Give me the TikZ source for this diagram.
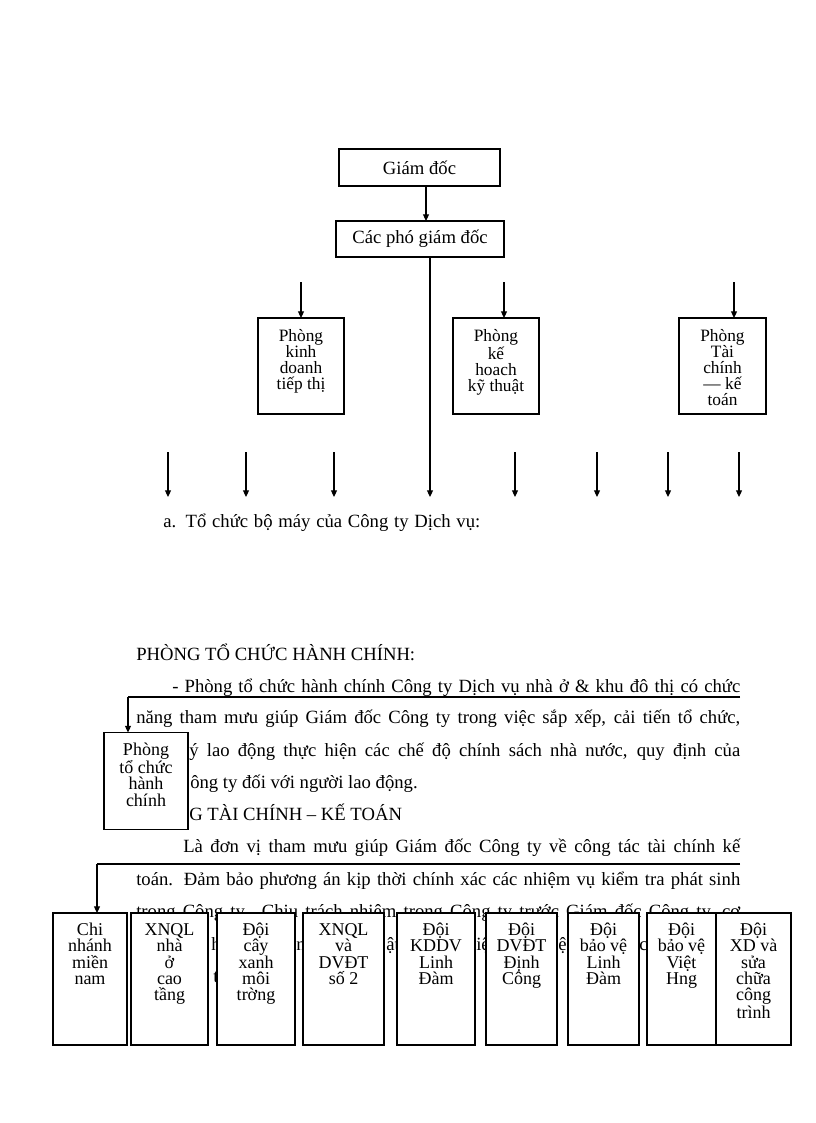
\documentclass[tikz,border=0pt]{standalone}
\usepackage{fontspec}
\setmainfont{Liberation Serif}
\usetikzlibrary{arrows.meta}
\newcommand\firststrut{\rule{0pt}{11pt}}
\begin{document}
\begin{tikzpicture}[x=0.75pt,y=-0.75pt,
  frame/.style={draw, line width=0.8pt, fill=white, inner sep=0pt, outer sep=0pt},
  headtxt/.style={font=\fontsize{14}{16}\selectfont},
  bigtxt/.style={font=\fontsize{13}{12}\selectfont, align=center, inner sep=0pt, anchor=north},
  midtxt/.style={font=\fontsize{13.5}{12.3}\selectfont, align=center, inner sep=0pt, anchor=north},
  smalltxt/.style={font=\fontsize{13.5}{12.3}\selectfont, align=center, inner sep=0pt, anchor=north},
  body/.style={font=\fontsize{14}{16}\selectfont, inner sep=0pt, anchor=base west},
  conn/.style={line width=0.8pt},
  arr/.style={conn, -{Triangle[length=5pt,width=4.5pt]}}
]
\useasboundingbox (0,0) rectangle (816,1123);

% ---------- top chart ----------
\node[frame, headtxt, minimum width=120.75pt, minimum height=27.75pt] (gd) at (419.5,167.5) {Giám đốc};
\node[frame, headtxt, minimum width=126pt, minimum height=27pt] (pgd) at (420,239) {Các phó giám đốc};

\node[frame, minimum width=64.5pt, minimum height=72pt] (kd) at (301,366) {};
\node[bigtxt] (kdt) at (301,326.5) {\firststrut Phòng\\kinh\\doanh\\tiếp thị};
\node[frame, minimum width=64.5pt, minimum height=72pt] (kh) at (496,366) {};
\node[bigtxt] (kht) at (496,326.5) {\firststrut Phòng\\kế\\hoach\\kỹ thuật};
\node[frame, minimum width=65.25pt, minimum height=72pt] (tc) at (722.5,366) {};
\node[bigtxt] (tct) at (722.5,326.5) {\firststrut Phòng\\Tài\\chính\\— kế\\toán};

\coordinate (a1) at (426,0);
\draw[arr] (gd.south -| a1) -- (pgd.north -| a1);
\coordinate (vEnd) at (430,497);
\draw[arr] (pgd.south -| vEnd) -- (vEnd);
\coordinate (s1) at (301,282);
\draw[arr] (s1) -- (kd.north);
\coordinate (s2) at (504,282);
\draw[arr] (s2) -- (s2 |- kh.north);
\coordinate (s3) at (734,282);
\draw[arr] (s3) -- (s3 |- tc.north);

\foreach \xx [count=\i] in {168,246,334,515,597,668,739}{
  \coordinate (r\i a) at (\xx,452);
  \coordinate (r\i b) at (\xx,497);
  \draw[arr] (r\i a) -- (r\i b);
}

\node[body] (cap) at (163,527) {\makebox[237.75pt][s]{a. Tổ chức bộ máy của Công ty Dịch vụ:}};

% ---------- body text ----------
\node[body] (l0) at (136,660) {PHÒNG TỔ CHỨC HÀNH  CHÍNH:};
\node[body] (l1) at (172,692) {\makebox[426pt][s]{- Phòng tổ chức hành chính Công ty Dịch vụ nhà ở \& khu đô thị có chức}};
\node[body] (l2) at (136,723) {\makebox[453pt][s]{năng tham mưu giúp Giám đốc Công ty trong việc sắp xếp, cải tiến tổ chức,}};
\node[body] (l3) at (189,756) {\makebox[413.25pt][s]{ý lao động thực hiện các chế độ chính sách nhà nước, quy định của}};
\node[body] (l4) at (190,788) {ông ty đối với người lao động.};
\node[body] (l5) at (189,820) {G TÀI CHÍNH – KẾ TOÁN};
\node[body] (l6) at (183,852) {\makebox[417.75pt][s]{Là đơn vị tham mưu giúp Giám đốc Công ty về công tác tài chính kế}};
\node[body] (l7) at (136,885) {\makebox[453pt][s]{toán. Đảm bảo phương án kịp thời chính xác các nhiệm vụ kiểm tra phát sinh}};
\node[body] (l8) at (136,917) {\makebox[453pt][s]{trong Công ty. Chịu trách nhiệm trong Công ty trước Giám đốc Công ty, cơ}};
\node[body] (f1) at (211,950) {h};
\node[body] (f2) at (296,950) {n};
\node[body] (f3) at (386,950) {ật};
\node[body] (f4) at (476,950) {iệ};
\node[body] (f5) at (558,950) {ệ};
\node[body] (f6) at (639,950) {cl};
\node[body] (f7) at (213,982) {t};

% ---------- Phòng tổ chức hành chính ----------
\node[frame, minimum width=63pt, minimum height=72.75pt] (tchc) at (146,781) {};
\node[midtxt] (tchct) at (146,740.3) {\firststrut Phòng\\tổ chức\\hành\\chính};
\coordinate (h1a) at (740,697);
\coordinate (h1b) at (128,697);
\draw[conn] (h1a) -- (h1b);
\draw[arr] (h1b) -- (h1b |- tchc.north);

% ---------- bottom row ----------
\node[frame, minimum width=55.5pt, minimum height=99pt] (cn) at (90,979) {};
\node[frame, minimum width=57.75pt, minimum height=99pt] (xa) at (169.5,979) {};
\node[frame, minimum width=58.5pt, minimum height=99pt] (dc) at (256,979) {};
\node[frame, minimum width=60.75pt, minimum height=99pt] (xb) at (343.5,979) {};
\node[frame, minimum width=58.5pt, minimum height=99pt] (kdd) at (436,979) {};
\node[frame, minimum width=53.25pt, minimum height=99pt] (dv) at (521.5,979) {};
\node[frame, minimum width=53.25pt, minimum height=99pt] (bva) at (603.5,979) {};
\node[frame, minimum width=51.75pt, minimum height=99pt] (bvb) at (681.5,979) {};
\node[frame, minimum width=56.25pt, minimum height=99pt] (xd) at (753.5,979) {};

\node[smalltxt] (cnt) at (90,920.3) {\firststrut Chi\\nhánh\\miền\\nam};
\node[smalltxt] (xat) at (169.5,920.3) {\firststrut XNQL\\nhà\\ở\\cao\\tầng};
\node[smalltxt] (dct) at (256,920.3) {\firststrut Đội\\cây\\xanh\\môi\\trờng};
\node[smalltxt] (xbt) at (343.5,920.3) {\firststrut XNQL\\và\\DVĐT\\số 2};
\node[smalltxt] (kddt) at (436,920.3) {\firststrut Đội\\KDDV\\Linh\\Đàm};
\node[smalltxt] (dvt) at (521.5,920.3) {\firststrut Đội\\DVĐT\\Định\\Công};
\node[smalltxt] (bvat) at (603.5,920.3) {\firststrut Đội\\bảo vệ\\Linh\\Đàm};
\node[smalltxt] (bvbt) at (681.5,920.3) {\firststrut Đội\\bảo vệ\\Việt\\Hng};
\node[smalltxt] (xdt) at (753.5,920.3) {\firststrut Đội\\XD và\\sửa\\chữa\\công\\trình};

\coordinate (h2a) at (740,864);
\coordinate (h2b) at (97,864);
\draw[conn] (h2a) -- (h2b);
\draw[arr] (h2b) -- (h2b |- cn.north);
\end{tikzpicture}
\end{document}
